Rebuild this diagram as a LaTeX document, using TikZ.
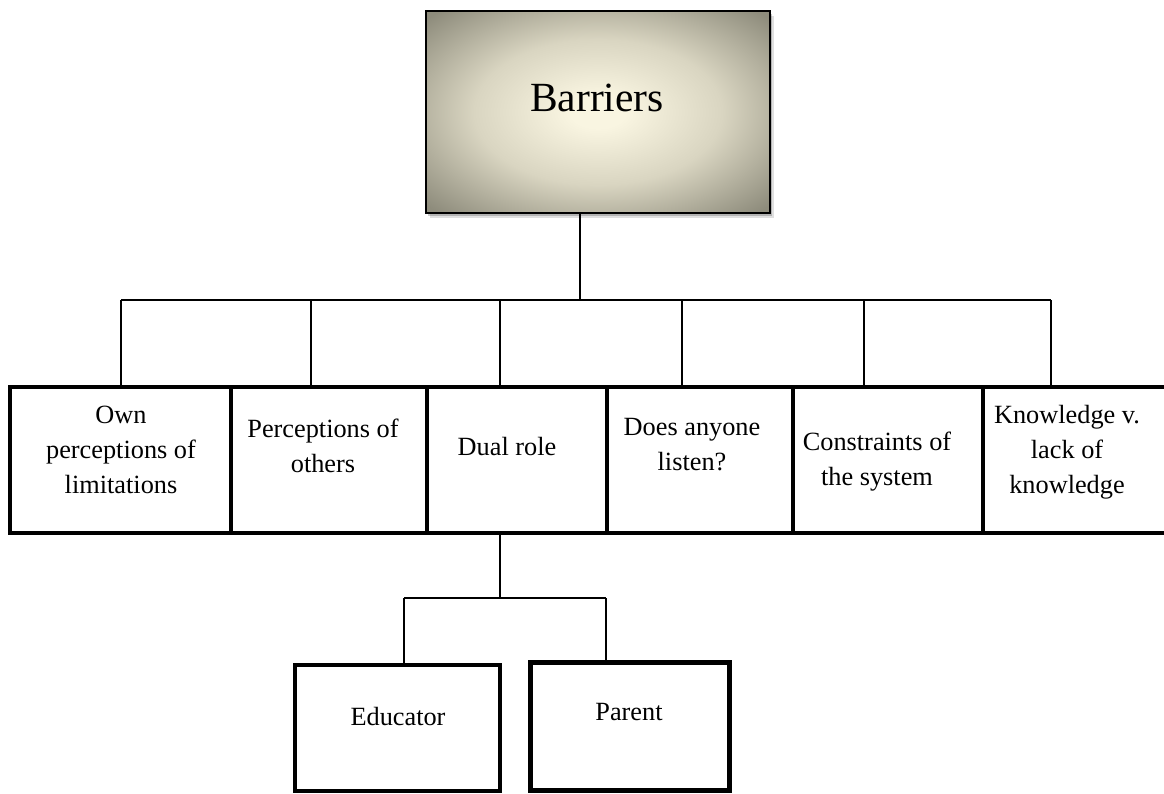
\documentclass[tikz,border=0pt]{standalone}
\usepackage{fontspec}
\setmainfont{Liberation Serif}
\usetikzlibrary{shadows}
\definecolor{bcenter}{HTML}{F9F5E1}
\definecolor{bmid}{HTML}{D9D5C1}
\definecolor{bedge}{HTML}{8E8C7C}
\pgfdeclareradialshading{barshade}{\pgfpoint{0bp}{0bp}}{color(0bp)=(bcenter); color(4bp)=(bcenter); color(18bp)=(bmid); color(34bp)=(bedge); color(50bp)=(bedge)}
\begin{document}
\begin{tikzpicture}[x=1pt,y=-1pt,
  rowbox/.style={draw=black, line width=4pt, fill=white, inner sep=0pt},
  conn/.style={draw=black, line width=1.3pt},
  lbl/.style={font=\fontsize{26.3}{35}\selectfont, align=center, anchor=base, inner sep=0pt}]
\useasboundingbox (0,0) rectangle (1164,793);
\fill[white] (0,0) rectangle (1164,793);
% coordinates for connectors
\coordinate (hub) at (580,300);
\coordinate (d1) at (121,300);
\coordinate (d2) at (311,300);
\coordinate (d3) at (500,300);
\coordinate (d4) at (682,300);
\coordinate (d5) at (864,300);
\coordinate (d6) at (1051,300);
\coordinate (j) at (500,598);
\coordinate (ej) at (404,598);
\coordinate (pj) at (606,598);
% top box
\node[draw=black, line width=2pt, shading=barshade, inner sep=0pt,
      minimum width=344pt, minimum height=202pt,
      drop shadow={shadow xshift=4pt, shadow yshift=-5pt, fill=black, opacity=0.12},
      drop shadow={shadow xshift=2pt, shadow yshift=-3pt, fill=black, opacity=0.2}] (bar) at (598,112) {};
\node[font=\fontsize{41.5}{41.5}\selectfont, anchor=base, inner sep=0pt] (bart) at (597,111) {Barriers};
% connectors
\draw[conn, line width=2pt] (hub |- bar.south) -- (hub);
\draw[conn] (d1) -- (d6);
\draw[conn] (d1) -- (d1 |- 0,387);
\draw[conn] (d2) -- (d2 |- 0,387);
\draw[conn] (d3) -- (d3 |- 0,387);
\draw[conn] (d4) -- (d4 |- 0,387);
\draw[conn] (d5) -- (d5 |- 0,387);
\draw[conn] (d6) -- (d6 |- 0,387);
\draw[conn] (j |- 0,533) -- (j);
\draw[conn] (ej) -- (pj);
\draw[conn] (ej) -- (ej |- 0,665);
\draw[conn] (pj) -- (pj |- 0,662);
% row boxes
\node[rowbox, minimum width=221pt, minimum height=146pt] (b1) at (120.5,460) {};
\node[rowbox, minimum width=196pt, minimum height=146pt] (b2) at (329,460) {};
\node[rowbox, minimum width=180pt, minimum height=146pt] (b3) at (517,460) {};
\node[rowbox, minimum width=186pt, minimum height=146pt] (b4) at (700,460) {};
\node[rowbox, minimum width=190pt, minimum height=146pt] (b5) at (888,460) {};
\node[rowbox, minimum width=183pt, minimum height=146pt] (b6) at (1074.5,460) {};
\node[rowbox, minimum width=205pt, minimum height=126pt] (edu) at (397.5,728) {};
\node[rowbox, line width=5pt, minimum width=199pt, minimum height=128pt] (par) at (629.5,726) {};
% labels (base anchor = baseline of last line)
\node[lbl] (t1) at (121,493) {Own\\perceptions of\\limitations};
\node[lbl] (t2) at (323,472) {Perceptions of\\others};
\node[lbl] (t3) at (507,455) {Dual role};
\node[lbl] (t4) at (692,470) {Does anyone\\listen?};
\node[lbl] (t5) at (877,485) {Constraints of\\the system};
\node[lbl] (t6) at (1067,493) {Knowledge v.\\lack of\\knowledge};
\node[lbl] (t7) at (398,725) {Educator};
\node[lbl] (t8) at (629,720) {Parent};
\end{tikzpicture}
\end{document}
